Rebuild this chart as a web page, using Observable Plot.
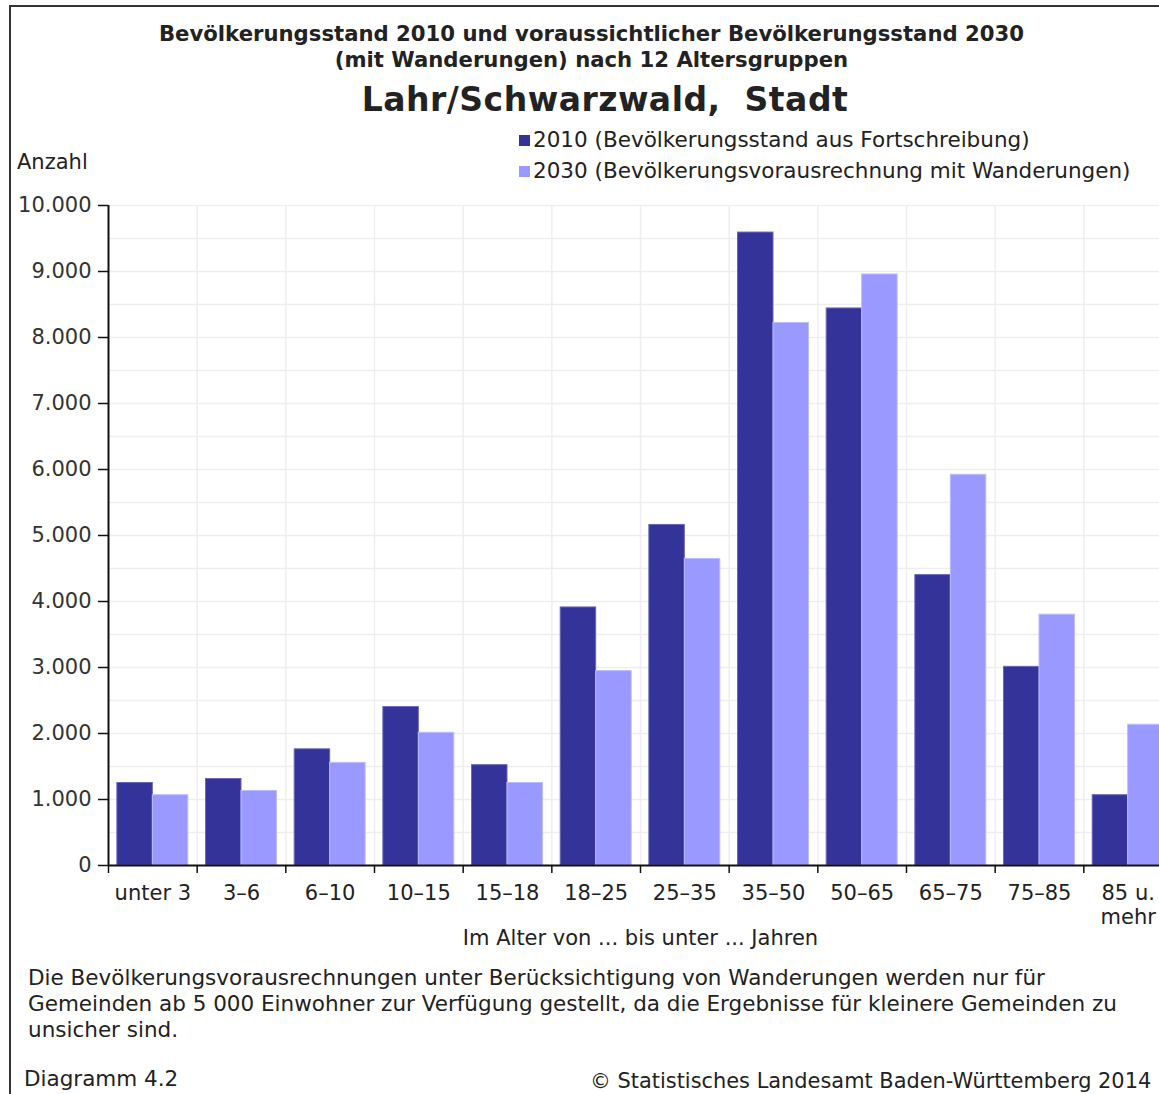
<!DOCTYPE html>
<html>
<head>
<meta charset="utf-8">
<script src="https://cdn.jsdelivr.net/npm/d3@7"></script>
<script src="https://cdn.jsdelivr.net/npm/@observablehq/plot@0.6"></script>
<style>
  html, body { margin: 0; padding: 0; background: #fff; overflow: hidden; }
  body { width: 1159px; height: 1094px; position: relative; font-family: "DejaVu Sans", Verdana, sans-serif; color: #222; }
  #frame { position: absolute; left: 9px; top: 5px; width: 1300px; height: 1200px; border-left: 2px solid #333; border-top: 2px solid #333; }
  .abs { position: absolute; white-space: nowrap; }
  #t1 { left: 0; width: 1183px; top: 21px; text-align: center; font-weight: bold; font-size: 21.2px; line-height: 26px; font-family: "DejaVu Sans", sans-serif; }
  #t2 { left: 0; width: 1210px; top: 80px; text-align: center; font-weight: bold; font-size: 33px; font-family: "DejaVu Sans", sans-serif; letter-spacing: 0.5px; }
  #legend { left: 519px; top: 124px; font-size: 21.5px; line-height: 31px; }
  #legend .sw { display: inline-block; width: 11px; height: 11px; margin-right: 3px; vertical-align: 1px; }
  #anzahl { left: 17px; top: 150px; font-size: 21px; }
  #note { left: 28px; top: 965px; font-size: 21.5px; line-height: 26px; }
  #diag { left: 24px; top: 1066px; font-size: 21.5px; }
  #copy { left: 590px; top: 1069px; font-size: 20.9px; }
  #chart { position: absolute; left: 0; top: 180px; width: 1185px; }
  #chart svg { max-width: none !important; overflow: visible; }
</style>
</head>
<body>
<div id="frame"></div>
<div class="abs" id="t1">Bevölkerungsstand 2010 und voraussichtlicher Bevölkerungsstand 2030<br>(mit Wanderungen) nach 12 Altersgruppen</div>
<div class="abs" id="t2">Lahr/Schwarzwald,&nbsp; Stadt</div>
<div class="abs" id="legend"></div>
<div class="abs" id="anzahl">Anzahl</div>
<div id="chart"></div>
<div class="abs" id="note">Die Bevölkerungsvorausrechnungen unter Berücksichtigung von Wanderungen werden nur für<br>Gemeinden ab 5 000 Einwohner zur Verfügung gestellt, da die Ergebnisse für kleinere Gemeinden zu<br>unsicher sind.</div>
<div class="abs" id="diag">Diagramm 4.2</div>
<div class="abs" id="copy">© Statistisches Landesamt Baden-Württemberg 2014</div>
<script>
// ---- data ----
const ageGroups = ["unter 3", "3–6", "6–10", "10–15", "15–18", "18–25", "25–35", "35–50", "50–65", "65–75", "75–85", "85 u.\nmehr"];
const values2010 = [1250, 1310, 1760, 2400, 1520, 3910, 5160, 9590, 8440, 4400, 3010, 1065];
const values2030 = [1065, 1130, 1555, 2010, 1250, 2945, 4645, 8220, 8955, 5920, 3800, 2132];
const seriesNames = ["2010", "2030"];
const seriesLabels = ["2010 (Bevölkerungsstand aus Fortschreibung)", "2030 (Bevölkerungsvorausrechnung mit Wanderungen)"];
const seriesColors = ["#333399", "#9999ff"];
const yTicks = [0, 1000, 2000, 3000, 4000, 5000, 6000, 7000, 8000, 9000, 10000];
const yMinorGrid = [500, 1500, 2500, 3500, 4500, 5500, 6500, 7500, 8500, 9500];
const xTitle = "Im Alter von ... bis unter ... Jahren";

// ---- build table ----
const rows = [];
ageGroups.forEach((g, i) => {
  rows.push({group: g, idx: i, series: "2010", value: values2010[i]});
  rows.push({group: g, idx: i, series: "2030", value: values2030[i]});
});
const deFormat = d3.formatLocale({decimal: ",", thousands: ".", grouping: [3], currency: ["", "€"]}).format(",");

// legend
const leg = document.getElementById("legend");
seriesLabels.forEach((l, i) => {
  const d = document.createElement("div");
  d.innerHTML = `<span class="sw" style="background:${seriesColors[i]}"></span>${l}`;
  leg.appendChild(d);
});

const boundaries = d3.range(ageGroups.length + 1);
const centers = ageGroups.map((g, i) => i + 0.5);
const barPad = 0.1; // fraction of category left empty at each side

const chart = Plot.plot({
  width: 1185,
  height: 785,
  marginLeft: 108,
  marginRight: 13,
  marginTop: 25,
  marginBottom: 100,
  style: {fontFamily: "DejaVu Sans, Verdana, sans-serif", fontSize: "21px", color: "#222", background: "transparent", maxWidth: "none", overflow: "visible"},
  x: {domain: [0, ageGroups.length], axis: null},
  y: {domain: [0, 10000], axis: null},
  color: {domain: seriesNames, range: seriesColors},
  marks: [
    Plot.ruleY(yMinorGrid.concat(yTicks.slice(1)), {stroke: "#eeeeee", strokeWidth: 1.5}),
    Plot.ruleX(boundaries.slice(1), {stroke: "#eeeeee", strokeWidth: 1.5}),
    Plot.rectY(rows, {
      x1: d => d.idx + barPad + (d.series === "2030" ? (1 - 2 * barPad) / 2 : 0),
      x2: d => d.idx + barPad + (d.series === "2030" ? (1 - 2 * barPad) : (1 - 2 * barPad) / 2),
      y1: 0,
      y2: "value",
      fill: "series",
      stroke: d => d.series === "2010" ? "#6666bb" : "#bbbbff",
      strokeWidth: 1
    }),
    Plot.ruleY([0], {stroke: "#111", strokeWidth: 2}),
    Plot.ruleX([0], {stroke: "#111", strokeWidth: 2}),
    Plot.axisY(yTicks, {label: null, tickFormat: deFormat, tickSize: 10, tickPadding: 7, stroke: "#111", fill: "#333", fontSize: 21, strokeWidth: 1.5}),
    Plot.axisX(boundaries, {label: null, tickFormat: () => "", tickSize: 8, stroke: "#111", strokeWidth: 1.5}),
    Plot.axisX(centers, {label: null, tickFormat: (d, i) => ageGroups[i], tickSize: 0, tickPadding: 17, fill: "#222", fontSize: 21, lineHeight: 1.15}),
    Plot.text([xTitle], {frameAnchor: "bottom", dy: 79, fontSize: 21, fill: "#222", x: () => ageGroups.length / 2})
  ]
});
document.getElementById("chart").appendChild(chart);
</script>
</body>
</html>
